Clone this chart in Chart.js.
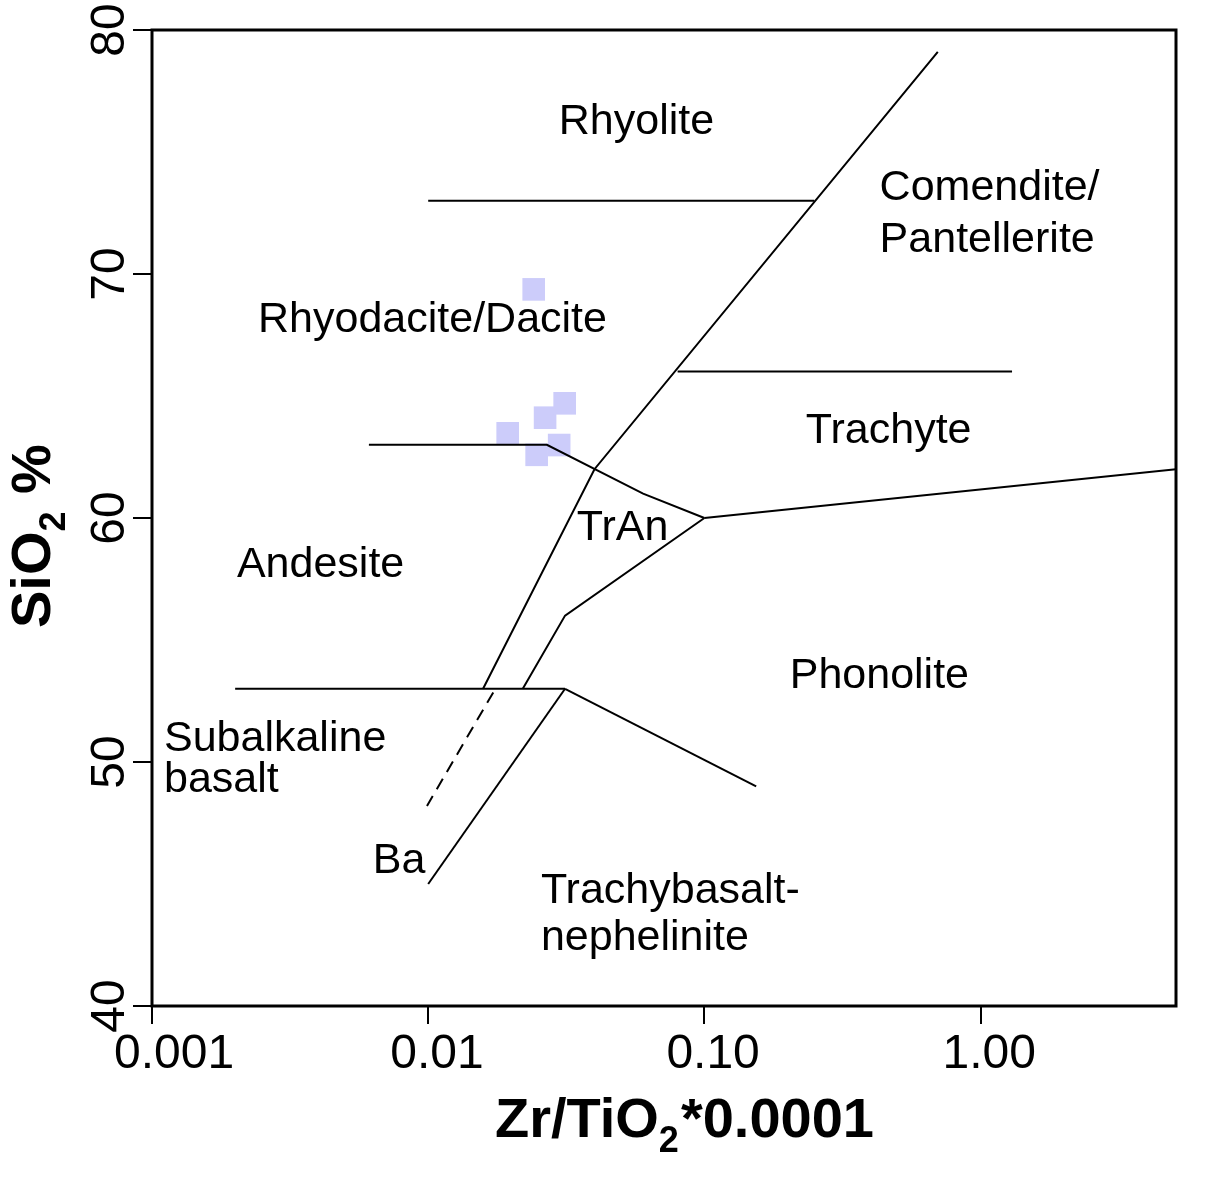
<!DOCTYPE html>
<html>
<head>
<meta charset="utf-8">
<script src="https://cdn.jsdelivr.net/npm/chart.js@4.4.1/dist/chart.umd.min.js"></script>
<style>
  html, body { margin: 0; padding: 0; background: #ffffff; }
  #wrap { width: 1206px; height: 1177px; }
</style>
</head>
<body>
<div id="wrap"><canvas id="c" width="1206" height="1177"></canvas></div>
<script>
// ---- axis ticks ----
const xTickValues = [0.001, 0.01, 0.1, 1];
const xTickLabels = ['0.001', '0.01', '0.10', '1.00'];
const yTickValues = [40, 50, 60, 70, 80];

// ---- axis titles (main text, subscript, rest) ----
const xTitleParts = ['Zr/TiO', '2', '*0.0001'];
const yTitleParts = ['SiO', '2', ' %'];

// ---- field boundary lines (Zr/TiO2*0.0001, SiO2 %) ----
const rhyoliteBase      = [[0.01, 73], [0.25, 73]];
const alkaliDivide      = [[0.70, 79.1], [0.040, 62], [0.0158, 53]];
const alkaliDivideDash  = [[0.0172, 52.85], [0.0099, 48.2]];
const andesiteTop       = [[0.0061, 63], [0.0269, 63], [0.060, 61], [0.10, 60]];
const trachytePhonolite = [[0.10, 60], [5.1, 62]];
const comenditeBase     = [[0.080, 66], [1.3, 66]];
const tranLower         = [[0.10, 60], [0.0313, 56], [0.022, 53]];
const basaltTop         = [[0.002, 53], [0.0313, 53]];
const basaniteEdge      = [[0.0313, 53], [0.010, 45]];
const phonoliteLower    = [[0.0313, 53], [0.154, 49]];

// ---- samples ----
const sampleZrTi = [0.0241, 0.0194, 0.0265, 0.0312, 0.0247, 0.0298];
const sampleSiO2 = [69.37, 63.47, 64.11, 64.70, 62.59, 62.99];

// ---- field names ----
const fieldNames = ['Rhyolite', 'Comendite/', 'Pantellerite', 'Rhyodacite/Dacite', 'Trachyte', 'TrAn',
  'Andesite', 'Phonolite', 'Subalkaline', 'basalt', 'Ba', 'Trachybasalt-', 'nephelinite'];
const fieldX = [0.0297, 0.431, 0.431, 0.00242, 0.233, 0.0345, 0.00203, 0.2037, 0.001105, 0.001105, 0.0063, 0.0256, 0.0256];
const fieldY = [75.74, 73.03, 70.90, 67.62, 63.07, 59.10, 57.58, 53.03, 50.45, 48.77, 45.45, 44.22, 42.30];

const FONT = '"Liberation Sans", Arial, Helvetica, sans-serif';

const toPts = arr => arr.map(p => ({ x: p[0], y: p[1] }));
const lineSet = (arr, dash) => ({
  data: toPts(arr), showLine: true, pointRadius: 0, borderColor: '#000', borderWidth: 2,
  borderDash: dash || [], fill: false, tension: 0
});

const datasets = [
  lineSet(rhyoliteBase), lineSet(alkaliDivide), lineSet(alkaliDivideDash, [12, 8]),
  lineSet(andesiteTop), lineSet(trachytePhonolite), lineSet(comenditeBase),
  lineSet(tranLower), lineSet(basaltTop), lineSet(basaniteEdge), lineSet(phonoliteLower),
  {
    data: sampleZrTi.map((v, i) => ({ x: v, y: sampleSiO2[i] })),
    pointStyle: 'rect', pointRadius: 16, backgroundColor: 'rgb(204,204,250)',
    borderWidth: 0, showLine: false
  }
];

const bgPlugin = {
  id: 'bg',
  beforeDraw(chart) {
    const c = chart.ctx; c.save(); c.fillStyle = '#fff';
    c.fillRect(0, 0, chart.width, chart.height); c.restore();
  }
};
const labelPlugin = {
  id: 'fieldLabels',
  afterDatasetsDraw(chart) {
    const c = chart.ctx, xs = chart.scales.x, ys = chart.scales.y;
    c.save();
    c.font = '43px ' + FONT;
    c.fillStyle = '#000'; c.textAlign = 'left'; c.textBaseline = 'alphabetic';
    fieldNames.forEach((t, i) => c.fillText(t, xs.getPixelForValue(fieldX[i]), ys.getPixelForValue(fieldY[i])));
    c.restore();
  }
};
function drawSubTitle(c, parts) {
  const main = 'bold 56px ' + FONT, sub = 'bold 36px ' + FONT;
  let x = 0;
  c.font = main; c.fillText(parts[0], x, 0); x += c.measureText(parts[0]).width;
  c.font = sub; c.fillText(parts[1], x, 15); x += c.measureText(parts[1]).width + 2;
  c.font = main; c.fillText(parts[2], x, 0);
}
const titlePlugin = {
  id: 'axisTitles',
  afterDraw(chart) {
    const a = chart.chartArea, c = chart.ctx;
    c.save();
    c.fillStyle = '#000'; c.textAlign = 'left'; c.textBaseline = 'alphabetic';
    c.translate(a.left + 343, a.bottom + 131);
    drawSubTitle(c, xTitleParts);
    c.restore();
    c.save();
    c.fillStyle = '#000'; c.textAlign = 'left'; c.textBaseline = 'alphabetic';
    c.translate(a.left - 102, a.bottom - 378);
    c.rotate(-Math.PI / 2);
    drawSubTitle(c, yTitleParts);
    c.restore();
  }
};
const framePlugin = {
  id: 'frame',
  afterDraw(chart) {
    const a = chart.chartArea, c = chart.ctx;
    c.save(); c.strokeStyle = '#000'; c.lineWidth = 3;
    c.strokeRect(a.left, a.top, a.right - a.left, a.bottom - a.top);
    c.restore();
  }
};

new Chart(document.getElementById('c'), {
  type: 'scatter',
  data: { datasets },
  plugins: [bgPlugin, labelPlugin, titlePlugin, framePlugin],
  options: {
    responsive: false, animation: false, devicePixelRatio: 1,
    layout: { padding: { top: 30, right: 30, left: 0, bottom: 0 } },
    plugins: { legend: { display: false }, tooltip: { enabled: false } },
    scales: {
      x: {
        type: 'logarithmic', min: 0.001, max: 5.1,
        afterBuildTicks: s => { s.ticks = xTickValues.map(v => ({ value: v })); },
        afterFit: s => { s.height = 171; },
        border: { display: false },
        grid: { display: true, drawOnChartArea: false, drawTicks: true, tickLength: 18, color: '#000', lineWidth: 2 },
        ticks: {
          autoSkip: false, maxRotation: 0, minRotation: 0, padding: 2, color: '#000',
          align: 'start', labelOffset: -38,
          font: { family: FONT, size: 48 },
          callback: (v, i) => xTickLabels[i]
        },
        title: { display: false }
      },
      y: {
        type: 'linear', min: 40, max: 80,
        afterBuildTicks: s => { s.ticks = yTickValues.map(v => ({ value: v })); },
        afterFit: s => { s.width = 152; },
        border: { display: false },
        grid: { display: true, drawOnChartArea: false, drawTicks: true, tickLength: 19, color: '#000', lineWidth: 2 },
        ticks: {
          minRotation: 90, maxRotation: 90, crossAlign: 'center', padding: -4, color: '#000',
          font: { family: FONT, size: 48 }
        },
        title: { display: false }
      }
    }
  }
});
</script>
</body>
</html>
